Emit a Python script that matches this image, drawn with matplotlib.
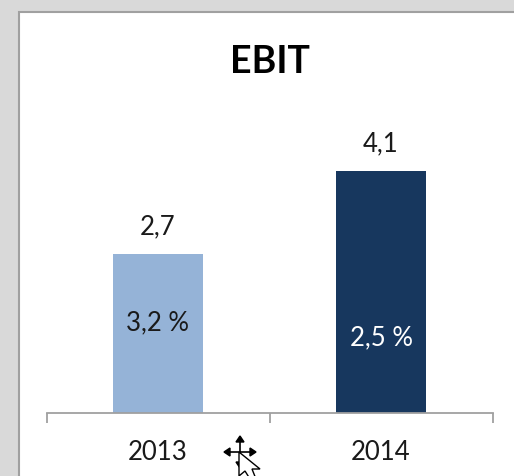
import matplotlib
matplotlib.use("Agg")
import matplotlib.pyplot as plt
from matplotlib.patches import Rectangle, Polygon
from matplotlib.transforms import Affine2D

W, H = 514, 477

years = ["2013", "2014"]
ebit = [2.7, 4.1]
ebit_labels = ["2,7", "4,1"]
margins = ["3,2 %", "2,5 %"]
margin_pos = [1.55, 1.29]
bar_colors = ["#95b3d7", "#17375e"]
margin_colors = ["#1a1a1a", "white"]

plt.rcParams['font.family'] = ['Lato', 'DejaVu Sans']

fig = plt.figure(figsize=(W / 100, H / 100), dpi=100, facecolor="#d9d9d9")

# px coordinates with origin at top left, for the window parts of the screenshot
px = Affine2D().scale(1, -1).translate(0, H)

fig.add_artist(Rectangle((19, 13), W, H, transform=px, facecolor="white",
                         edgecolor="#a0a0a0", linewidth=1.5, zorder=-1))

ax = fig.add_axes([46.5 / W, (H - 414) / H, (492 - 46) / W, 400 / H])
ax.patch.set_alpha(0)
ax.set_xlim(0, 2)
ax.set_ylim(0, 400 / 59)

x = [0.5, 1.5]
ax.bar(x, ebit, width=0.4, color=bar_colors)

for i in range(2):
    ax.annotate(ebit_labels[i], (x[i], ebit[i]), xytext=(0, 28), textcoords="offset pixels",
                ha="center", va="center", fontsize=18.5, color="#1a1a1a")
    ax.text(x[i], margin_pos[i], margins[i], ha="center", va="center", fontsize=18.5,
            color=margin_colors[i])

for s in ["top", "left", "right"]:
    ax.spines[s].set_visible(False)
ax.spines["bottom"].set_color("#a0a0a0")
ax.spines["bottom"].set_linewidth(1.3)
ax.set_yticks([])
ax.set_xticks([0, 1, 2])
ax.set_xticklabels([])
ax.tick_params(axis="x", length=7.5, width=1.3, color="#a0a0a0")
ax.set_xticks(x, minor=True)
ax.set_xticklabels(years, minor=True, fontsize=18.5, color="#1a1a1a")
ax.tick_params(axis="x", which="minor", length=0, pad=19)

fig.text(270 / W, (H - 62) / H, "EBIT", ha="center", va="center", fontsize=27,
         fontweight="bold", color="black")

# mouse cursor from the screenshot
cx, cy = 240, 453
for a, b in [((cx - 12, cy), (cx + 12, cy)), ((cx, cy - 12), (cx, cy + 10))]:
    fig.add_artist(plt.Line2D([a[0], b[0]], [a[1], b[1]], transform=px, color="black",
                              linewidth=1.2, zorder=5))
for pts in [[(cx - 16, cy), (cx - 10, cy - 4), (cx - 10, cy + 4)],
            [(cx + 16, cy), (cx + 10, cy - 4), (cx + 10, cy + 4)],
            [(cx, cy - 16), (cx - 4, cy - 10), (cx + 4, cy - 10)],
            [(cx, cy + 16), (cx - 4, cy + 10), (cx + 4, cy + 10)]]:
    fig.add_artist(Polygon(pts, closed=True, transform=px, color="black", zorder=5))
fig.add_artist(Polygon([(239, 453), (239, 477), (245, 472), (250, 480), (256, 480), (252, 470), (260, 470)],
                       closed=True, transform=px, facecolor="white", edgecolor="black",
                       linewidth=1, zorder=6))

fig.savefig("out.png", dpi=100, facecolor=fig.get_facecolor())
